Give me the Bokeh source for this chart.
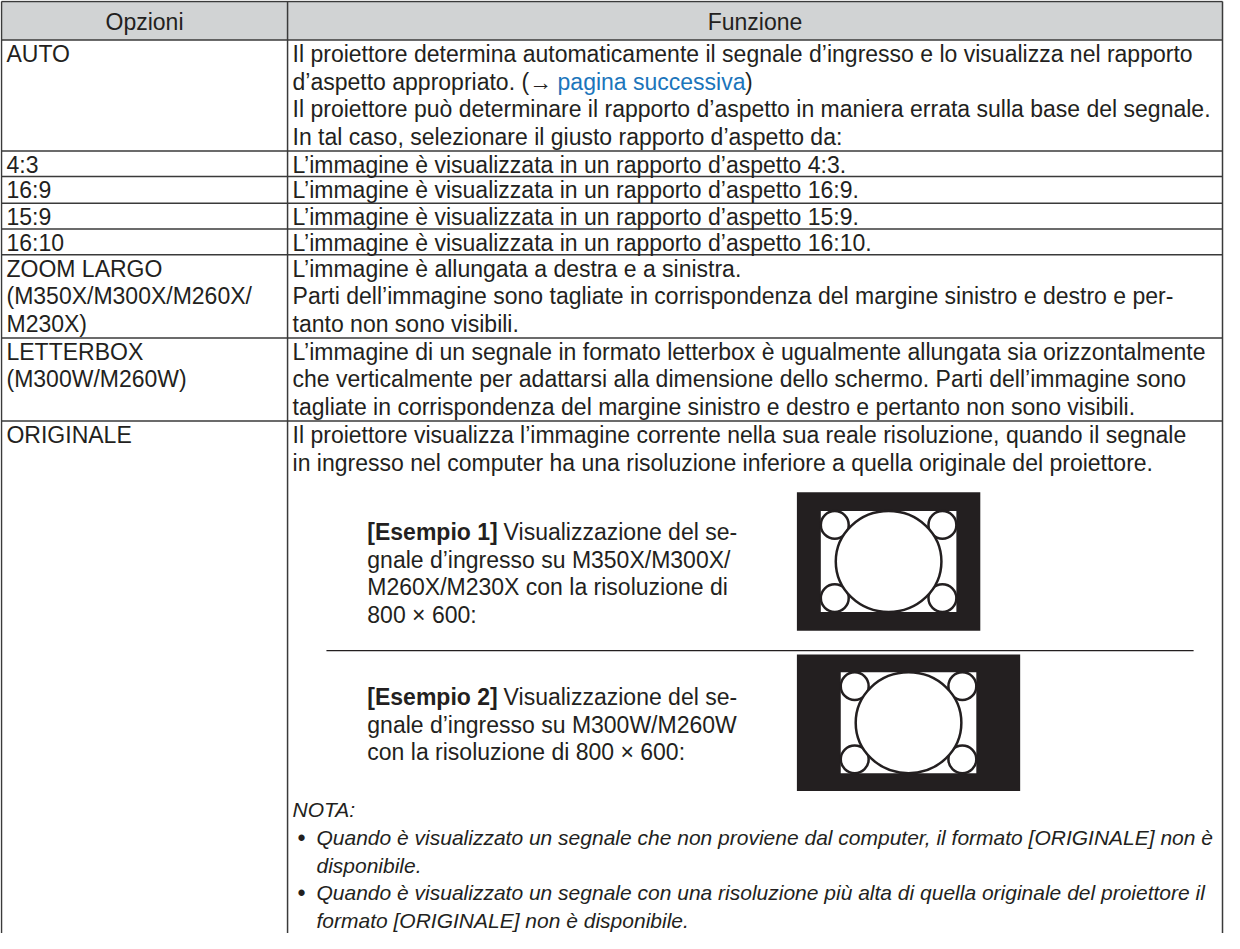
from bokeh.plotting import figure
from bokeh.models import Range1d
from bokeh.core.properties import value
from bokeh.embed import file_html
from bokeh.resources import INLINE

# ---------------- data ----------------
header_labels = ["Opzioni", "Funzione"]
row_edges = [7, 46, 158, 184, 211, 237, 263, 347, 431, 949]
col_edges = [5, 292, 1230]

option_lines = [
    ["AUTO"],
    ["4:3"],
    ["16:9"],
    ["15:9"],
    ["16:10"],
    ["ZOOM LARGO", "(M350X/M300X/M260X/", "M230X)"],
    ["LETTERBOX", "(M300W/M260W)"],
    ["ORIGINALE"],
]

function_lines = [
    ["Il proiettore determina automaticamente il segnale d\u2019ingresso e lo visualizza nel rapporto",
     "d\u2019aspetto appropriato. (\u2192",
     "Il proiettore pu\u00f2 determinare il rapporto d\u2019aspetto in maniera errata sulla base del segnale.",
     "In tal caso, selezionare il giusto rapporto d\u2019aspetto da:"],
    ["L\u2019immagine \u00e8 visualizzata in un rapporto d\u2019aspetto 4:3."],
    ["L\u2019immagine \u00e8 visualizzata in un rapporto d\u2019aspetto 16:9."],
    ["L\u2019immagine \u00e8 visualizzata in un rapporto d\u2019aspetto 15:9."],
    ["L\u2019immagine \u00e8 visualizzata in un rapporto d\u2019aspetto 16:10."],
    ["L\u2019immagine \u00e8 allungata a destra e a sinistra.",
     "Parti dell\u2019immagine sono tagliate in corrispondenza del margine sinistro e destro e per-",
     "tanto non sono visibili."],
    ["L\u2019immagine di un segnale in formato letterbox \u00e8 ugualmente allungata sia orizzontalmente",
     "che verticalmente per adattarsi alla dimensione dello schermo. Parti dell\u2019immagine sono",
     "tagliate in corrispondenza del margine sinistro e destro e pertanto non sono visibili."],
    ["Il proiettore visualizza l\u2019immagine corrente nella sua reale risoluzione, quando il segnale",
     "in ingresso nel computer ha una risoluzione inferiore a quella originale del proiettore."],
]
link_text = "pagina successiva"
link_close = ")"

example_bold = ["[Esempio 1]", "[Esempio 2]"]
example_first = ["Visualizzazione del se-", "Visualizzazione del se-"]
example_rest = [
    ["gnale d\u2019ingresso su M350X/M300X/", "M260X/M230X con la risoluzione di", "800 \u00d7 600:"],
    ["gnale d\u2019ingresso su M300W/M260W", "con la risoluzione di 800 \u00d7 600:"],
]
example_y = [543, 710]

# outer black frame of each example picture (left, right, top, bottom)
ex_frames = [(803, 987, 503, 643), (803, 1027, 667, 805)]
inner_w, inner_h = 136, 102
big_circle = (106, 102)
corner_d = 28

note_title = "NOTA:"
note_lines = [
    ("\u2022", "Quando \u00e8 visualizzato un segnale che non proviene dal computer, il formato [ORIGINALE] non \u00e8"),
    ("", "disponibile."),
    ("\u2022", "Quando \u00e8 visualizzato un segnale con una risoluzione pi\u00f9 alta di quella originale del proiettore il"),
    ("", "formato [ORIGINALE] non \u00e8 disponibile."),
]
note_y0 = 824

# ---------------- styling ----------------
FONT = value("Liberation Sans")
FSV = 23.0
FS = f"{FSV}px"
FS_IT = "21px"
INK = "#231f20"
GRID = "#3a3a3a"
HEAD = "#d1d3d4"
LINK = "#1b75bb"
PITCH = 28

p = figure(width=1224, height=933, output_backend="svg", toolbar_location=None,
           x_range=Range1d(4, 1232), y_range=Range1d(949, 6),
           min_border=0, outline_line_color=None)
p.axis.visible = False
p.grid.visible = False
p.background_fill_color = "white"
p.border_fill_color = "white"

txt = dict(text_baseline="middle", text_font=FONT, text_color=INK)

# header band
p.quad(left=[col_edges[0]], right=[col_edges[-1]], top=[row_edges[0]], bottom=[row_edges[1]],
       fill_color=HEAD, line_color=None)

# grid lines
n = len(row_edges) - 1
p.segment(x0=[col_edges[0]] * n, x1=[col_edges[-1]] * n, y0=row_edges[:-1], y1=row_edges[:-1],
          line_color=GRID, line_width=1.5)
p.segment(x0=col_edges, x1=col_edges, y0=[row_edges[0]] * 3, y1=[row_edges[-1]] * 3,
          line_color=GRID, line_width=1.5)

# header text
p.text(x=[(col_edges[0] + col_edges[1]) / 2, (col_edges[1] + col_edges[2]) / 2],
       y=[(row_edges[0] + row_edges[1]) / 2 + 1] * 2, text=header_labels,
       text_align="center", text_font_size=FS, **txt)

# body text
lx, ly, lt, rx, ry, rt = [], [], [], [], [], []
for i, (ol, fl) in enumerate(zip(option_lines, function_lines)):
    top = row_edges[i + 1]
    for k, s in enumerate(ol):
        lx.append(col_edges[0] + 5); ly.append(top + 14 + PITCH * k); lt.append(s)
    for k, s in enumerate(fl):
        rx.append(col_edges[1] + 5); ry.append(top + 14 + PITCH * k); rt.append(s)
p.text(x=lx, y=ly, text=lt, text_align="left", text_font_size=FS, **txt)
p.text(x=rx, y=ry, text=rt, text_align="left", text_font_size=FS, **txt)

# link in AUTO row (offsets from Arial/Liberation advance widths)
em = FSV / 1000.0
auto_y = row_edges[1] + 14 + PITCH
link_x = col_edges[1] + 5 + 11561 * em
p.text(x=[link_x], y=[auto_y], text=[link_text], text_align="left", text_font_size=FS,
       text_baseline="middle", text_font=FONT, text_color=LINK)
p.text(x=[link_x + 8170 * em], y=[auto_y], text=[link_close], text_align="left",
       text_font_size=FS, **txt)

# examples
ex_x = 372
p.text(x=[ex_x] * 2, y=example_y, text=example_bold, text_align="left", text_font_size=FS,
       text_font_style="bold", **txt)
p.text(x=[ex_x + (5668 + 278) * em] * 2, y=example_y, text=example_first, text_align="left",
       text_font_size=FS, **txt)
ex_rx, ex_ry, ex_rt = [], [], []
for y0, lines in zip(example_y, example_rest):
    for k, s in enumerate(lines):
        ex_rx.append(ex_x); ex_ry.append(y0 + PITCH * (k + 1)); ex_rt.append(s)
p.text(x=ex_rx, y=ex_ry, text=ex_rt, text_align="left", text_font_size=FS, **txt)

# separator between examples
p.segment(x0=[331], x1=[1201], y0=[663], y1=[663], line_color=INK, line_width=1.3)

# example pictures
for (l, r, t, b) in ex_frames:
    cx, cy = (l + r) / 2, (t + b) / 2
    p.quad(left=[l], right=[r], top=[t], bottom=[b], fill_color=INK, line_color=None)
    il, ir = cx - inner_w / 2, cx + inner_w / 2
    it, ib = cy - inner_h / 2, cy + inner_h / 2
    p.quad(left=[il], right=[ir], top=[it], bottom=[ib], fill_color="white", line_color=None)
    rr = corner_d / 2
    p.ellipse(x=[il + rr, ir - rr, il + rr, ir - rr], y=[it + rr, it + rr, ib - rr, ib - rr],
              width=corner_d, height=corner_d, fill_color="white", line_color=INK, line_width=2.5)
    p.ellipse(x=[cx], y=[cy], width=big_circle[0], height=big_circle[1],
              fill_color="white", line_color=INK, line_width=2.5)

# note
p.text(x=[col_edges[1] + 5], y=[note_y0], text=[note_title], text_align="left",
       text_font_size=FS_IT, text_font_style="italic", **txt)
bx, by, bt, nx, ny, nt = [], [], [], [], [], []
for k, (bullet, s) in enumerate(note_lines):
    y = note_y0 + PITCH * (k + 1)
    if bullet:
        bx.append(col_edges[1] + 10); by.append(y); bt.append(bullet)
    nx.append(col_edges[1] + 29); ny.append(y); nt.append(s)
p.text(x=bx, y=by, text=bt, text_align="left", text_font_size=FS, **txt)
p.text(x=nx, y=ny, text=nt, text_align="left", text_font_size=FS_IT, text_font_style="italic",
       **txt)

open("out.html", "w").write(file_html(p, INLINE))
